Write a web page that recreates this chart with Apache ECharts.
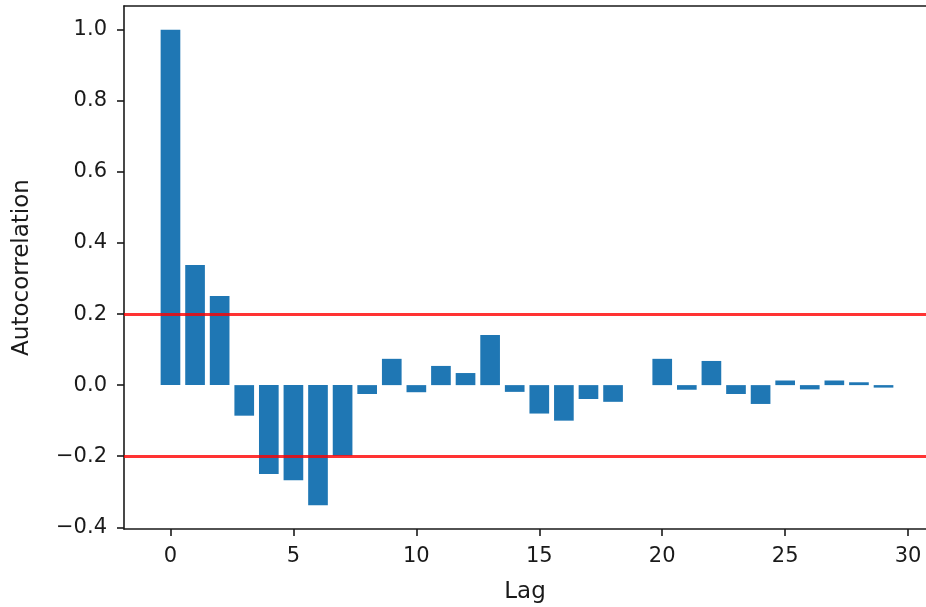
<!DOCTYPE html>
<html>
<head>
<meta charset="utf-8">
<script src="https://cdn.jsdelivr.net/npm/echarts@6/dist/echarts.min.js"></script>
<style>
  html, body { margin: 0; padding: 0; background: #fff; overflow: hidden; }
  #chart { width: 926px; height: 607px; }
</style>
</head>
<body>
<div id="chart"></div>
<script>
// Autocorrelation by lag
const lags = [0,1,2,3,4,5,6,7,8,9,10,11,12,13,14,15,16,17,18,19,20,21,22,23,24,25,26,27,28,29];
const acf = [1.0, 0.338, 0.251, -0.086, -0.250, -0.268, -0.338, -0.199, -0.025, 0.074,
             -0.020, 0.054, 0.034, 0.141, -0.019, -0.080, -0.100, -0.039, -0.047, 0.0,
             0.074, -0.013, 0.068, -0.025, -0.053, 0.013, -0.012, 0.013, 0.008, -0.007];
const confBounds = [0.2, -0.2];
const xTicks = [0, 5, 10, 15, 20, 25, 30];
const yTicks = [-0.4, -0.2, 0.0, 0.2, 0.4, 0.6, 0.8, 1.0];

// autoscale with 5% margins around the bar extents
const barW = 0.8;
const xLo = lags[0] - barW / 2, xHi = lags[lags.length - 1] + barW / 2;
const yLo = Math.min(0, ...acf), yHi = Math.max(0, ...acf);
const xPad = (xHi - xLo) * 0.05, yPad = (yHi - yLo) * 0.05;
const xMin = xLo - xPad, xMaxFull = xHi + xPad;

const fmt = v => (v < 0 ? '\u2212' : '') + Math.abs(v).toFixed(1);
const font = 'DejaVu Sans';
const ink = '#1a1a1a';

const chartW = 926;
const chart = echarts.init(document.getElementById('chart'), null, { renderer: 'canvas' });
const gridLeft = 124, gridRight = 0, gridTop = 6, gridBottom = 78;
// the full frame is 806px wide and runs 4px past the right edge of the canvas
const frameW = 806;
const unitPx = frameW / (xMaxFull - xMin);
const plotW = chartW - gridLeft - gridRight;
const xMaxVisible = xMin + plotW / unitPx;

const spine = { show: true, onZero: false, lineStyle: { color: ink, width: 1.6 } };

chart.setOption({
  animation: false,
  backgroundColor: '#fff',
  grid: {
    left: gridLeft, right: gridRight, top: gridTop, bottom: gridBottom,
    outerBoundsMode: 'none', containLabel: false
  },
  xAxis: [{
    type: 'value',
    min: xMin, max: xMaxVisible,
    name: 'Lag', nameLocation: 'middle', nameGap: 52,
    nameTextStyle: { fontFamily: font, fontSize: 23, color: ink },
    axisLine: spine,
    axisTick: { show: true, length: 7, lineStyle: { color: ink, width: 1.6 }, customValues: xTicks },
    axisLabel: { fontFamily: font, fontSize: 21, color: ink, margin: 17, customValues: xTicks,
                 formatter: v => String(v) },
    splitLine: { show: false }
  }, {
    // top frame line
    type: 'value', position: 'top',
    min: xMin, max: xMaxVisible,
    axisLine: spine,
    axisTick: { show: false }, axisLabel: { show: false }, splitLine: { show: false }
  }],
  yAxis: {
    type: 'value',
    min: yLo - yPad, max: yHi + yPad,
    name: 'Autocorrelation', nameLocation: 'middle', nameGap: 90, nameRotate: 90,
    nameTextStyle: { fontFamily: font, fontSize: 23, color: ink },
    axisLine: spine,
    axisTick: { show: true, length: 7, lineStyle: { color: ink, width: 1.6 }, customValues: yTicks },
    axisLabel: { fontFamily: font, fontSize: 21, color: ink, margin: 17, customValues: yTicks,
                 formatter: v => fmt(v) },
    splitLine: { show: false }
  },
  series: [{
    type: 'bar',
    xAxisIndex: 0,
    data: lags.map((l, i) => [l, acf[i]]),
    barWidth: barW * unitPx,
    itemStyle: { color: '#1f77b4' },
    markLine: {
      silent: true,
      symbol: ['none', 'none'],
      label: { show: false },
      lineStyle: { color: 'rgba(255,0,0,0.8)', width: 3, type: 'solid' },
      data: confBounds.map(b => ({ yAxis: b }))
    }
  }]
});
</script>
</body>
</html>
